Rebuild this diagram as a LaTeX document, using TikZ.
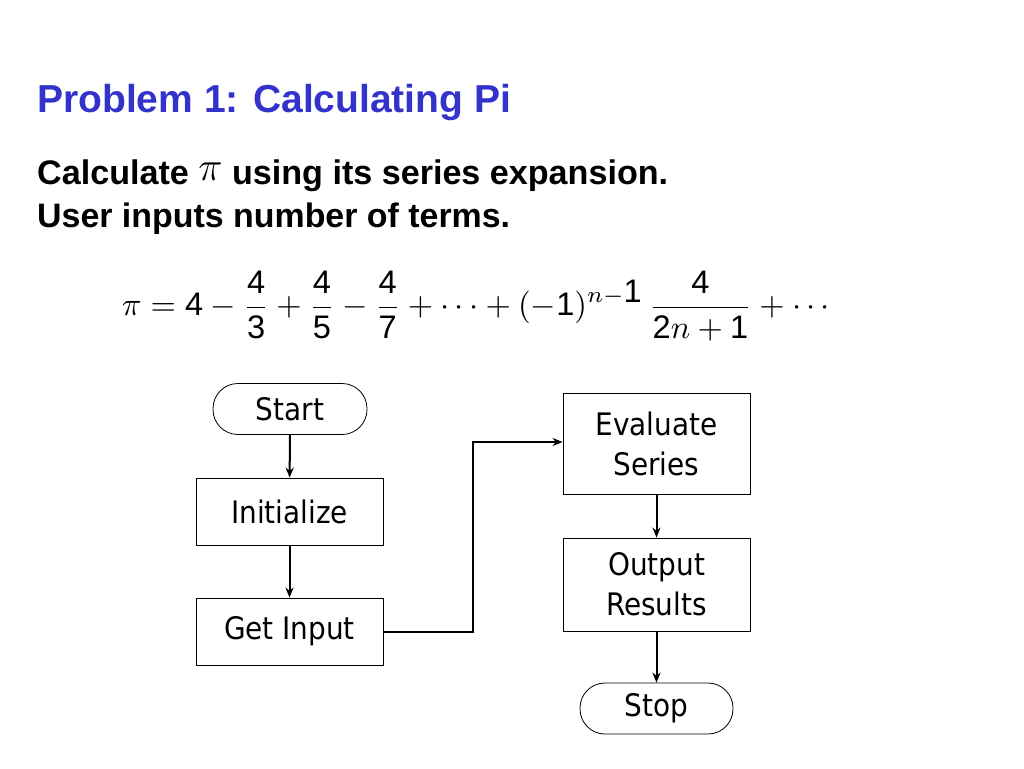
\documentclass[tikz,border=0pt]{standalone}
\usepackage{fontspec}
\setmainfont{Liberation Sans}
\newfontfamily\boxfont{DejaVu Sans Condensed}
\usetikzlibrary{arrows.meta}
\begin{document}
\begin{tikzpicture}[x=1pt,y=-1pt,
  box/.style={draw,thick,fill=white,font=\boxfont\fontsize{31}{40}\selectfont,align=center,inner sep=0pt},
  arr/.style={-{Stealth[length=10pt,width=8pt]},line width=2pt}]
\useasboundingbox (0,0) rectangle (1024,768);
\node[anchor=base west,font=\bfseries\fontsize{39}{44}\selectfont,color={rgb,255:red,51;green,51;blue,204},inner sep=0pt] (title) at (37,112) {Problem 1: Calculating Pi};
\node[anchor=base west,inner sep=0pt] (l1) at (37,184) {\resizebox{631pt}{!}{\bfseries Calculate \raisebox{1pt}{\large$\pi$} using its series expansion.}};
\node[anchor=base west,font=\bfseries\fontsize{34}{40}\selectfont,inner sep=0pt] (l2) at (37,227) {\resizebox{473pt}{!}{User inputs number of terms.}};
\node (eq) at (476,306) {\resizebox{708pt}{!}{$\displaystyle \pi = \textrm{4} - \frac{\textrm{4}}{\textrm{3}} + \frac{\textrm{4}}{\textrm{5}} - \frac{\textrm{4}}{\textrm{7}} + \cdots + (-\textrm{1})^{n-\textrm{1}}\,\frac{\textrm{4}}{\textrm{2}n+\textrm{1}} + \cdots$}};
\node[box,rounded corners=25pt,minimum width=154pt,minimum height=51pt] (start) at (290,409) {Start};
\node[box,minimum width=187pt,minimum height=67pt] (init) at (289.5,511.5) {Initialize};
\node[box,minimum width=187pt,minimum height=67pt] (get) at (289.5,631.5) {Get Input};
\node[box,minimum width=187pt,minimum height=101pt] (eval) at (656.5,443.5) {Evaluate\\Series};
\node[box,minimum width=187pt,minimum height=93pt] (out) at (656.5,584.5) {Output\\Results};
\node[box,rounded corners=25pt,minimum width=153pt,minimum height=51pt] (stop) at (656.5,708.5) {Stop};
\draw[arr] (start) -- (init);
\draw[arr] (init) -- (get);
\draw[arr] (eval) -- (out);
\draw[arr] (out) -- (stop);
\draw[arr] (get.east) -- (473,631.5) -- (473,442) -- (eval.west |- 0,442);
\end{tikzpicture}
\end{document}
